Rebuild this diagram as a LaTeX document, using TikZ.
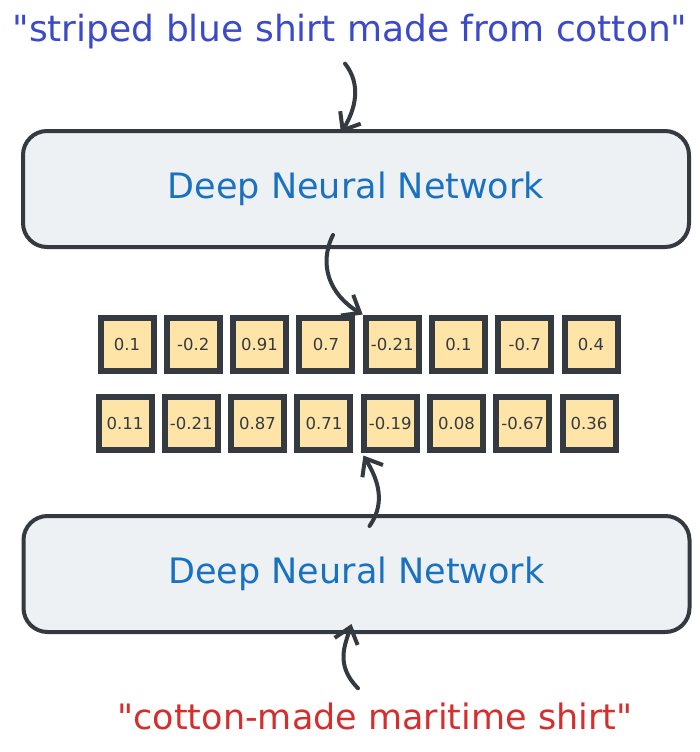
\documentclass[tikz,border=0pt]{standalone}
\usepackage{fontspec}
\setmainfont{DejaVu Sans}
\usetikzlibrary{arrows.meta,calc}
\definecolor{inkgray}{HTML}{343A40}
\definecolor{boxgray}{HTML}{EEF1F3}
\definecolor{cellyellow}{HTML}{FFE4A8}
\definecolor{queryblue}{HTML}{3B4BC8}
\definecolor{netblue}{HTML}{1971C2}
\definecolor{queryred}{HTML}{D32F2F}
\newcommand{\stroke}{4pt}
\newcommand{\cellsize}{53pt}
\newcommand{\cellstep}{66.3}

\tikzset{
  dnn/.style={draw=inkgray, fill=boxgray, line width=\stroke, rounded corners=24pt,
    minimum width=666pt, minimum height=116pt, text=netblue,
    font=\fontsize{35}{42}\selectfont},
  cell/.style={draw=inkgray, fill=cellyellow, line width=6pt, minimum size=\cellsize,
    inner sep=0pt, text=inkgray, font=\fontsize{16.5}{20}\selectfont},
  query/.style={inner sep=0pt, font=\fontsize{36}{42}\selectfont},
  flow/.style={draw=inkgray, line width=\stroke, line cap=round,
    -{Straight Barb[length=15pt,width=24pt]}}
}

\begin{document}
\begin{tikzpicture}[x=1pt,y=-1pt]
\useasboundingbox (0,0) rectangle (700,752);
\node[query, text=queryblue] (qtop) at (350,32) {\textquotedbl striped blue shirt made from cotton\textquotedbl};
\node[dnn] (dnntop) at (356,189) {Deep Neural Network};
\node[dnn] (dnnbot) at (356.5,574) {Deep Neural Network};
\node[query, text=queryred, font=\fontsize{35}{42}\selectfont] (qbot) at (375,716) {\textquotedbl cotton-made maritime shirt\textquotedbl};
%embeddings
\foreach \v [count=\i] in {0.1,-0.2,0.91,0.7,-0.21,0.1,-0.7,0.4}
  \node[cell] (a\i) at (127+\cellstep*\i-\cellstep,344) {\v};
\foreach \v [count=\i] in {0.11,-0.21,0.87,0.71,-0.19,0.08,-0.67,0.36}
  \node[cell] (b\i) at (125+\cellstep*\i-\cellstep,423) {\v};
%arrows
\coordinate (in1) at ($(dnntop.north)+(-15,4)$);
\coordinate (out1) at ($(dnntop.south)+(-23,-14)$);
\coordinate (in2) at ($(dnnbot.north)+(13,12)$);
\coordinate (out2) at ($(dnnbot.south)+(-5,-10)$);
\draw[flow] ($(qtop.south)+(-5,14)$) .. controls (362,85) and (355,110) .. (in1);
\draw[flow] (out1) .. controls (318,265) and (330,295) .. (a5.north west);
\draw[flow] (in2) .. controls (388,500) and (375,475) .. ($(b4.south east)+(10,3)$);
\draw[flow] ($(qbot.north)+(-17,-14)$) .. controls (335,665) and (345,645) .. (out2);
\end{tikzpicture}
\end{document}
